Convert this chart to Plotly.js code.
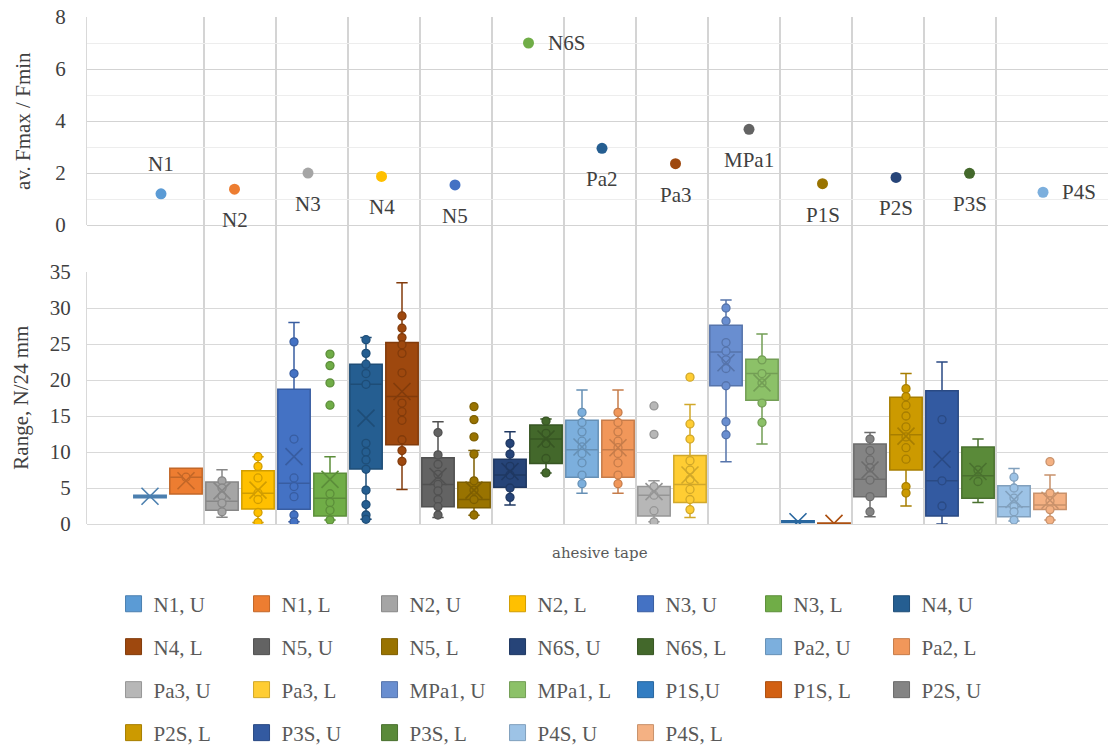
<!DOCTYPE html>
<html>
<head>
<meta charset="utf-8">
<script src="https://cdn.plot.ly/plotly-3.0.1.min.js"></script>
<style>
  html, body { margin: 0; padding: 0; background: #fff; }
  #chart { width: 1110px; height: 747px; }
  #chart text { font-family: 'Liberation Serif' !important; }
  #chart g.annotation[data-index="15"] text { font-family: 'DejaVu Serif' !important; }
</style>
</head>
<body>
<div id="chart"></div>
<script>
// ---- upper panel: average Fmax / Fmin for each adhesive tape ----
const tapes = ['N1', 'N2', 'N3', 'N4', 'N5', 'N6S', 'Pa2', 'Pa3', 'MPa1', 'P1S', 'P2S', 'P3S', 'P4S'];
const ratio = [1.20, 1.38, 2.00, 1.87, 1.54, 7.00, 2.95, 2.36, 3.68, 1.59, 1.83, 1.99, 1.26];
const tapeColors = ['#5B9BD5', '#ED7D31', '#A5A5A5', '#FFC000', '#4472C4', '#70AD47', '#255E91',
                    '#9E480E', '#636363', '#997300', '#264478', '#43682B', '#7CAFDD'];

// ---- lower panel: force range, N/24 mm, upper (U) and lower (L) side ----
const series = ['N1, U', 'N1, L', 'N2, U', 'N2, L', 'N3, U', 'N3, L', 'N4, U',
                'N4, L', 'N5, U', 'N5, L', 'N6S, U', 'N6S, L', 'Pa2, U', 'Pa2, L',
                'Pa3, U', 'Pa3, L', 'MPa1, U', 'MPa1, L', 'P1S,U', 'P1S, L', 'P2S, U',
                'P2S, L', 'P3S, U', 'P3S, L', 'P4S, U', 'P4S, L'];
const seriesColors = ['#5B9BD5', '#ED7D31', '#A5A5A5', '#FFC000', '#4472C4', '#70AD47', '#255E91',
                      '#9E480E', '#636363', '#997300', '#264478', '#43682B', '#7CAFDD', '#F1975A',
                      '#B7B7B7', '#FFCD33', '#698ED0', '#8CC168', '#327DC2', '#D26012', '#848484',
                      '#CC9A00', '#335AA1', '#5A8A39', '#9DC3E6', '#F4B183'];
const q1         = [3.65, 4.17, 1.90, 2.08, 2.04, 1.12, 7.64, 11.0, 2.40, 2.27, 5.10, 8.40, 6.50,
                    6.50, 1.10, 3.00, 19.2, 17.2, 0.20, 0.00, 3.80, 7.50, 1.10, 3.56, 1.00, 2.00];
const median     = [3.85, 6.48, 3.15, 4.26, 5.65, 3.56, 19.4, 17.7, 5.50, 3.40, 6.80, 11.8, 10.3,
                    10.3, 4.00, 5.50, 23.9, 20.9, 0.32, 0.08, 6.20, 12.4, 6.00, 6.70, 2.40, 2.64];
const q3         = [4.00, 7.73, 5.85, 7.40, 18.7, 7.04, 22.2, 25.2, 9.20, 5.80, 9.00, 13.75, 14.4,
                    14.4, 5.20, 9.50, 27.6, 22.9, 0.45, 0.15, 11.1, 17.6, 18.5, 10.7, 5.30, 4.26];
const lowerFence = [3.65, 4.17, 0.93, 0.20, 0.30, 0.55, 0.65, 4.80, 0.90, 1.20, 2.64, 7.10, 4.26,
                    4.26, 0.30, 0.90, 8.66, 11.1, 0.20, 0.00, 1.00, 2.50, 0.00, 3.00, 0.40, 0.55];
const upperFence = [4.00, 7.73, 7.55, 9.35, 28.0, 9.35, 25.9, 33.5, 14.2, 10.2, 12.8, 14.6, 18.6,
                    18.6, 6.00, 16.6, 31.1, 26.4, 0.45, 0.15, 12.7, 20.9, 22.5, 11.8, 7.70, 6.80];
const means      = [3.85, 6.00, 4.60, 4.70, 9.35, 6.20, 14.7, 18.4, 6.60, 4.70, 7.30, 11.8, 10.7,
                    10.6, 4.50, 6.80, 22.4, 19.6, 0.32, 0.08, 7.50, 12.2, 9.00, 7.30, 3.40, 3.30];
const samples = [
  [],
  [6.5],
  [6.0, 5.0, 3.9, 2.9, 1.7],
  [9.35, 8.0, 6.4, 4.3, 3.4, 1.6, 0.2],
  [25.3, 20.9, 11.8, 6.4, 5.2, 3.8, 1.25, 0.3],
  [23.6, 22.0, 19.6, 16.5, 4.2, 3.0, 1.9, 0.55],
  [25.6, 23.7, 22.2, 20.9, 19.4, 11.2, 10.0, 8.9, 7.6, 4.7, 2.7, 1.25, 0.65],
  [28.9, 27.2, 25.9, 24.9, 23.7, 21.0, 16.8, 15.6, 14.4, 11.7, 10.2, 8.7],
  [12.7, 9.6, 8.3, 6.9, 5.5, 4.6, 3.4, 2.4, 1.25],
  [16.3, 14.5, 12.1, 9.7, 6.0, 4.7, 3.4, 1.25],
  [11.2, 9.7, 8.0, 6.8, 5.0, 3.7],
  [14.3, 12.6, 11.2, 9.1, 7.1],
  [15.5, 14.1, 12.8, 11.5, 10.7, 9.8, 8.5, 6.8, 5.6],
  [15.5, 14.1, 12.8, 11.5, 10.6, 9.8, 8.5, 6.8, 5.6],
  [16.4, 12.45, 5.2, 4.0, 1.85, 0.3],
  [20.4, 13.9, 11.8, 8.8, 7.5, 6.2, 4.8, 3.4, 2.0],
  [30.0, 28.2, 25.2, 24.0, 22.8, 21.6, 19.2, 14.2, 12.4],
  [22.8, 20.9, 19.6, 16.8, 14.1],
  [],
  [],
  [11.8, 10.2, 8.9, 7.8, 6.1, 3.8, 1.7],
  [18.8, 17.7, 16.5, 15.0, 13.5, 12.1, 10.6, 9.0, 5.2, 4.3],
  [14.5, 6.0, 2.5],
  [7.5, 5.9],
  [6.5, 5.0, 3.6, 2.4, 1.7, 0.55],
  [8.66, 4.3, 3.2, 2.0, 0.55]
];

const textFamily = 'Liberation Serif';

// darker outline shade of a fill colour
function shade(hex, f) {
  const n = parseInt(hex.slice(1), 16);
  const r = Math.round(((n >> 16) & 255) * f);
  const g = Math.round(((n >> 8) & 255) * f);
  const b = Math.round((n & 255) * f);
  return 'rgb(' + r + ',' + g + ',' + b + ')';
}
const edgeColors = seriesColors.map(c => shade(c, 0.82));
const positions = series.map((s, i) => i);

const traces = [];

// boxes with whiskers
series.forEach((name, i) => {
  traces.push({
    type: 'box', xaxis: 'x', yaxis: 'y',
    x: [positions[i]],
    q1: [q1[i]], median: [median[i]], q3: [q3[i]],
    lowerfence: [lowerFence[i]], upperfence: [upperFence[i]],
    width: 0.9, whiskerwidth: 0.35,
    fillcolor: seriesColors[i],
    line: { color: edgeColors[i], width: 1.5 },
    boxpoints: false, showlegend: false, hoverinfo: 'skip', name: name
  });
});

// individual measurements
series.forEach((name, i) => {
  traces.push({
    type: 'scatter', mode: 'markers', xaxis: 'x', yaxis: 'y',
    x: samples[i].map(() => positions[i]), y: samples[i],
    marker: { size: 8, color: seriesColors[i], line: { color: edgeColors[i], width: 1.3 } },
    showlegend: false, hoverinfo: 'skip'
  });
});

// mean markers
traces.push({
  type: 'scatter', mode: 'markers', xaxis: 'x', yaxis: 'y',
  x: positions, y: means,
  marker: { symbol: 'x-thin', size: 17, color: edgeColors, line: { color: edgeColors, width: 1.6 } },
  showlegend: false, hoverinfo: 'skip'
});

// legend entries, seven per row
series.forEach((name, i) => {
  const row = Math.floor(i / 7);
  traces.push({
    type: 'scatter', mode: 'markers', xaxis: 'x', yaxis: 'y',
    x: [null], y: [null], name: name,
    legend: row === 0 ? 'legend' : 'legend' + (row + 1),
    marker: { symbol: 'square', size: 16, color: seriesColors[i], line: { color: edgeColors[i], width: 1 } },
    showlegend: true, hoverinfo: 'skip'
  });
});

// upper panel ratio dots
traces.push({
  type: 'scatter', mode: 'markers', xaxis: 'x2', yaxis: 'y2',
  x: tapes.map((t, k) => k + 1), y: ratio,
  marker: { size: 11, color: tapeColors },
  showlegend: false, hoverinfo: 'skip'
});

// tape labels next to the dots
const labelSide = { N1: 'above', N6S: 'right', P4S: 'right' };
const labelFont = { family: textFamily, size: 21, color: '#404040' };
const annotations = tapes.map((t, k) => {
  const side = labelSide[t] || 'below';
  const a = { xref: 'x2', yref: 'y2', x: k + 1, y: ratio[k], text: t, showarrow: false,
              font: labelFont, xanchor: 'center', yanchor: 'middle' };
  if (side === 'above') { a.yshift = 30; }
  else if (side === 'below') { a.yshift = -31; }
  else { a.xanchor = 'left'; a.xshift = 17; }
  return a;
});

// axis titles
annotations.push(
  { xref: 'paper', yref: 'paper', x: -0.0627, y: 0.795, text: 'av. Fmax / Fmin', textangle: -90,
    xanchor: 'center', yanchor: 'middle',
    showarrow: false, font: { family: textFamily, size: 21, color: '#404040' } },
  { xref: 'paper', yref: 'paper', x: -0.065, y: 0.2485, text: 'Range, N/24 mm', textangle: -90,
    xanchor: 'center', yanchor: 'middle',
    showarrow: false, font: { family: textFamily, size: 21, color: '#404040' } },
  { xref: 'paper', yref: 'paper', x: 0.5024, y: -0.0572, text: 'ahesive tape',
    xanchor: 'center', yanchor: 'middle',
    showarrow: false, font: { family: 'DejaVu Serif', size: 15, color: '#595959' } }
);

// group separators between the tapes
const shapes = [];
for (let k = 0; k < tapes.length - 1; k++) {
  shapes.push({
    type: 'line', xref: 'x', yref: 'paper', x0: 2 * k + 1.5, x1: 2 * k + 1.5, y0: 0, y1: 1,
    line: { color: '#A9A9A9', width: 1 }, layer: 'below'
  });
}

function legendRow(yPos) {
  return {
    orientation: 'h', x: 0.026, xanchor: 'left', y: yPos, yanchor: 'middle',
    entrywidth: 83, entrywidthmode: 'pixels',
    font: { family: textFamily, size: 21, color: '#595959' },
    bgcolor: 'rgba(0,0,0,0)', borderwidth: 0
  };
}

const layout = {
  width: 1110, height: 747,
  margin: { l: 87, r: 2, t: 17, b: 223, autoexpand: false },
  paper_bgcolor: '#ffffff', plot_bgcolor: '#ffffff',
  boxmode: 'overlay', hovermode: false, showlegend: true,
  font: { family: textFamily, size: 21, color: '#404040' },
  xaxis: {
    domain: [0, 1], anchor: 'y', range: [-1.75, 26.611],
    showgrid: false, zeroline: false, showticklabels: false, ticks: '', showline: false
  },
  yaxis: {
    domain: [0, 0.497], anchor: 'x', range: [0, 35], tick0: 0, dtick: 5,
    gridcolor: '#D9D9D9', gridwidth: 1, zeroline: true, zerolinecolor: '#D9D9D9', zerolinewidth: 1,
    showline: true, linecolor: '#D9D9D9', linewidth: 1, ticks: '', ticklabelstandoff: 11,
    tickfont: { family: textFamily, size: 21, color: '#404040' }
  },
  xaxis2: {
    domain: [0, 1], anchor: 'y2', range: [-0.0068, 13.884],
    showgrid: false, zeroline: false, showticklabels: false, ticks: '', showline: false
  },
  yaxis2: {
    domain: [0.5897, 1], anchor: 'x2', range: [0, 8], tick0: 0, dtick: 2,
    gridcolor: '#D3D3D3', gridwidth: 1, zeroline: true, zerolinecolor: '#D3D3D3', zerolinewidth: 1,
    minor: { dtick: 1, showgrid: true, gridcolor: '#EDEDED', gridwidth: 1 },
    showline: true, linecolor: '#D9D9D9', linewidth: 1, ticks: '', ticklabelstandoff: 16,
    tickfont: { family: textFamily, size: 21, color: '#404040' }
  },
  legend: legendRow(-0.158),
  legend2: legendRow(-0.2426),
  legend3: legendRow(-0.3274),
  legend4: legendRow(-0.4122),
  shapes: shapes,
  annotations: annotations
};

// make sure the serif faces are ready before the text is laid out
function draw() {
  Plotly.newPlot('chart', traces, layout, { displayModeBar: false, staticPlot: true });
}
if (document.fonts && document.fonts.load) {
  Promise.all([
    document.fonts.load('21px "Liberation Serif"'),
    document.fonts.load('15px "DejaVu Serif"')
  ]).then(draw, draw);
} else {
  draw();
}
</script>
</body>
</html>
